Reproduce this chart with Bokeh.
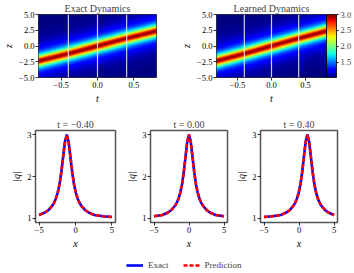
import numpy as np
from bokeh.plotting import figure
from bokeh.layouts import column, row
from bokeh.models import (LinearColorMapper, ColorBar, FixedTicker, Span, Range1d,
                          Legend, LegendItem, CustomJSTickFormatter)
from bokeh.embed import file_html
from bokeh.resources import INLINE

# ---------------- data ----------------
# |q| profile as a function of distance from the soliton centre
profile_offset = [0.0, 0.25, 0.5, 0.75, 1.0, 1.25, 1.5, 1.75, 2.0, 2.5, 3.0, 3.8, 5.0, 6.2]
profile_exact = [3.00, 2.83, 2.47, 2.10, 1.81, 1.61, 1.47, 1.37, 1.30, 1.20, 1.14, 1.08, 1.05, 1.03]
profile_pred = [3.00, 2.83, 2.47, 2.10, 1.81, 1.61, 1.47, 1.37, 1.30, 1.20, 1.14, 1.08, 1.05, 1.03]
# soliton trajectory z_c(t)
traj_t = [-0.8, -0.4, 0.0, 0.4, 0.8]
traj_z = [-2.35, -1.2, 0.0, 1.2, 2.35]
# slices
slice_t = [-0.4, 0.0, 0.4]
slice_center = [-1.2, 0.0, 1.2]
slice_titles = ["t = \u22120.40", "t = 0.00", "t = 0.40"]
heat_titles = ["Exact Dynamics", "Learned Dynamics"]
t_ticks = [-0.5, 0.0, 0.5]
z_ticks = [-5.0, -2.5, 0.0, 2.5, 5.0]
cb_ticks = [1.5, 2.0, 2.5, 3.0]
x_ticks = [-5, 0, 5]
q_ticks = [1, 2, 3]
t_lim = (-0.81, 0.81)
z_lim = (-5.0, 5.0)
x_lim = (-5.5, 5.5)
q_lim = (0.9, 3.1)
c_lim = (1.03, 3.0)

FONT = "Liberation Serif"

# jet palette
def jet_palette(n=256):
    s = np.linspace(0, 1, n)
    r = np.interp(s, [0, 0.35, 0.66, 0.89, 1], [0, 0, 1, 1, 0.5])
    g = np.interp(s, [0, 0.125, 0.375, 0.64, 0.91, 1], [0, 0, 1, 1, 0, 0])
    b = np.interp(s, [0, 0.11, 0.34, 0.65, 1], [0.5, 1, 1, 0, 0])
    return ["#%02x%02x%02x" % (int(round(255 * a)), int(round(255 * bb)), int(round(255 * c)))
            for a, bb, c in zip(r, g, b)]

mapper = LinearColorMapper(palette=jet_palette(), low=c_lim[0], high=c_lim[1])

t_axis = np.linspace(t_lim[0], t_lim[1], 200)
z_axis = np.linspace(z_lim[0], z_lim[1], 250)
T, Z = np.meshgrid(t_axis, z_axis)
C = np.interp(T, traj_t, traj_z)
D = np.abs(Z - C)
field_exact = np.interp(D, profile_offset, profile_exact)
field_pred = np.interp(D, profile_offset, profile_pred)

fmt1 = CustomJSTickFormatter(code="return tick.toFixed(1).replace('-', '\\u2212');")
fmt0 = CustomJSTickFormatter(code="return tick.toFixed(0).replace('-', '\\u2212');")


def style(p, xlabel, ylabel):
    p.xgrid.visible = False
    p.ygrid.visible = False
    p.xaxis.axis_label = xlabel
    p.yaxis.axis_label = ylabel
    for ax in (p.xaxis[0], p.yaxis[0]):
        ax.major_label_text_font = FONT
        ax.major_label_text_font_size = "8.5px"
        ax.major_label_text_color = "black"
        ax.axis_label_text_font = FONT
        ax.axis_label_text_font_size = "10px"
        ax.axis_label_text_font_style = "italic"
        ax.axis_label_text_color = "black"
        ax.major_tick_out = 3
        ax.major_tick_in = 0
        ax.minor_tick_out = 0
        ax.minor_tick_in = 0
        ax.major_label_standoff = 1
        ax.axis_label_standoff = 2
        ax.axis_line_color = None
        ax.major_tick_line_color = "black"
        ax.major_tick_line_width = 0.8
    p.title.text_font = FONT
    p.title.text_font_size = "10px"
    p.title.text_font_style = "normal"
    p.title.align = "center"
    p.title.standoff = 1
    p.border_fill_color = "white"
    p.background_fill_color = "white"


def heat(title, field, width, left, right, cbar):
    p = figure(width=width, height=106, x_range=Range1d(*t_lim), y_range=Range1d(*z_lim),
               min_border_left=left, min_border_right=right, min_border_top=12,
               min_border_bottom=25, output_backend="svg", toolbar_location=None, title=title)
    p.image(image=[field], x=t_lim[0], y=z_lim[0], dw=t_lim[1] - t_lim[0],
            dh=z_lim[1] - z_lim[0], color_mapper=mapper)
    for ts in slice_t:
        p.add_layout(Span(location=ts, dimension="height", line_color="white",
                          line_alpha=0.8, line_width=1.2))
    style(p, "t", "z")
    p.xaxis.ticker = FixedTicker(ticks=t_ticks)
    p.yaxis.ticker = FixedTicker(ticks=z_ticks)
    p.xaxis.formatter = fmt1
    p.yaxis.formatter = fmt1
    p.outline_line_color = "black"
    p.outline_line_width = 0.8
    if cbar:
        cb = ColorBar(color_mapper=mapper, ticker=FixedTicker(ticks=cb_ticks), formatter=fmt1,
                      width=10, padding=0, margin=4, label_standoff=2,
                      major_label_text_font=FONT, major_label_text_font_size="8.5px",
                      major_tick_line_color="black", major_tick_out=2, major_tick_in=0,
                      bar_line_color="black", bar_line_width=0.8,
                      border_line_color=None, background_fill_alpha=0)
        p.add_layout(cb, "right")
    return p


pA = heat(heat_titles[0], field_exact, 178, 35, 22, False)
pB = heat(heat_titles[1], field_pred, 176, 37, 27, True)

widths = [123, 110, 121]
lefts = [35, 24, 24]
rights = [8, 6, 17]
slices = []
for i in range(3):
    p = figure(width=widths[i], height=145, x_range=Range1d(*x_lim), y_range=Range1d(*q_lim),
               min_border_left=lefts[i], min_border_right=rights[i], min_border_top=24,
               min_border_bottom=27, output_backend="svg", toolbar_location=None,
               title=slice_titles[i])
    c = slice_center[i]
    xs, ye, yp = [], [], []
    for s in (-1, 1):
        for d, ve, vp in zip(profile_offset, profile_exact, profile_pred):
            if s == -1 and d == 0:
                continue
            xv = c + s * d
            if x_lim[0] + 0.45 <= xv <= x_lim[1] - 0.45:
                xs.append(xv)
                ye.append(ve)
                yp.append(vp)
    order = np.argsort(xs)
    xs = list(np.array(xs)[order])
    ye = list(np.array(ye)[order])
    yp = list(np.array(yp)[order])
    p.line(xs, ye, line_color="#0000ff", line_width=2.6)
    p.line(xs, yp, line_color="#ff0000", line_width=2.6, line_dash="4 2")
    style(p, "x", "|q|")
    p.title.standoff = 2
    p.xaxis.ticker = FixedTicker(ticks=x_ticks)
    p.yaxis.ticker = FixedTicker(ticks=q_ticks)
    p.xaxis.formatter = fmt0
    p.yaxis.formatter = fmt0
    p.outline_line_color = "#555555"
    p.outline_line_width = 1.5
    slices.append(p)

# legend
pl = figure(width=354, height=21, x_range=Range1d(0, 1), y_range=Range1d(0, 1),
            min_border=0, output_backend="svg", toolbar_location=None)
pl.axis.visible = False
pl.xgrid.visible = False
pl.ygrid.visible = False
pl.outline_line_color = None
r1 = pl.line([5, 6], [5, 5], line_color="#0000ff", line_width=2.6)
r2 = pl.line([5, 6], [5, 5], line_color="#ff0000", line_width=2.6, line_dash="4 2")
leg = Legend(items=[LegendItem(label="Exact", renderers=[r1]),
                    LegendItem(label="Prediction", renderers=[r2])],
             orientation="horizontal", location=(126, 2), border_line_alpha=0,
             background_fill_alpha=0, label_text_font=FONT, label_text_font_size="9px",
             glyph_width=17, glyph_height=10, spacing=14, padding=0, margin=0,
             label_standoff=5, label_height=10)
pl.add_layout(leg, "center")

layout = column(row(pA, pB), row(*slices), pl)
open("out.html", "w").write(file_html(layout, INLINE))
